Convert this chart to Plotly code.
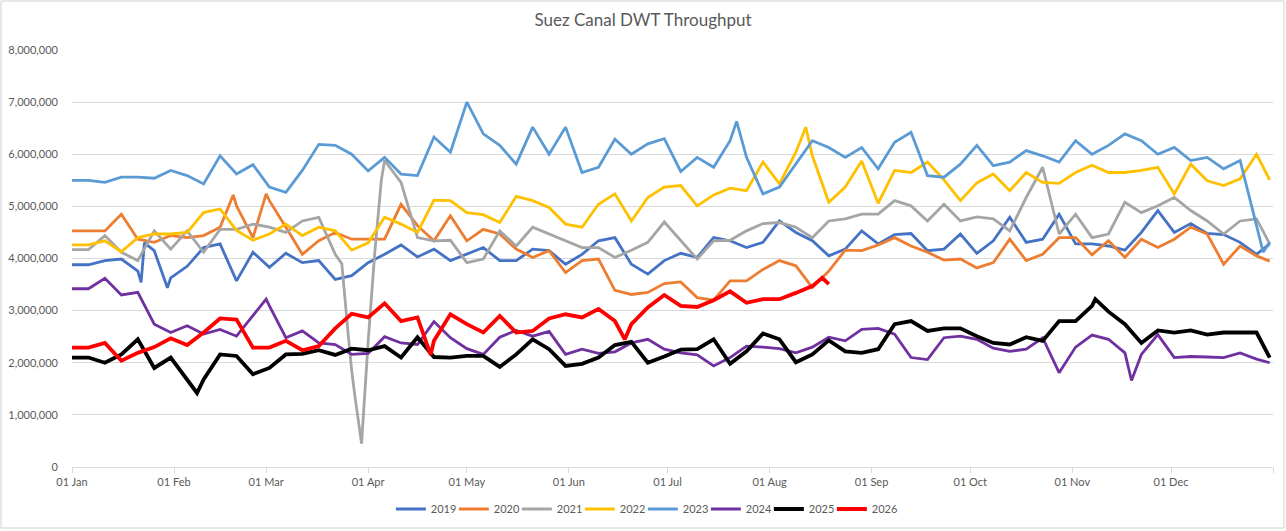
import pandas as pd
import plotly.graph_objects as go

# Day-of-year sample positions (shared grid) and base year for the date axis
DAYS = list(range(0, 361, 5)) + [364]
BASE = "2023-01-01"

YEARS = ["2019", "2020", "2021", "2022", "2023", "2024", "2025", "2026"]
COLORS = ["#4472C4", "#ED7D31", "#A5A5A5", "#FFC000", "#5B9BD5", "#7030A0", "#000000", "#FF0000"]

# Values in millions of DWT
V2019 = [3.88, 3.88, 3.96, 3.99, 3.76, 4.15, 3.63, 3.85, 4.21, 4.28,
         3.57, 4.12, 3.83, 4.10, 3.92, 3.96, 3.60, 3.67, 3.92, 4.08,
         4.26, 4.03, 4.18, 3.96, 4.08, 4.21, 3.96, 3.96, 4.18, 4.15,
         3.89, 4.08, 4.34, 4.40, 3.89, 3.70, 3.96, 4.10, 4.02, 4.40,
         4.34, 4.21, 4.31, 4.72, 4.50, 4.34, 4.05, 4.18, 4.53, 4.28,
         4.46, 4.48, 4.15, 4.18, 4.47, 4.10, 4.34, 4.79, 4.31, 4.37,
         4.85, 4.28, 4.28, 4.24, 4.16, 4.50, 4.92, 4.50, 4.67, 4.48,
         4.46, 4.31, 4.08, 4.28]
V2020 = [4.53, 4.53, 4.53, 4.85, 4.37, 4.31, 4.44, 4.40, 4.44, 4.60,
         5.01, 4.40, 5.11, 4.60, 4.08, 4.34, 4.50, 4.37, 4.37, 4.37,
         5.04, 4.63, 4.34, 4.82, 4.34, 4.56, 4.47, 4.18, 4.02, 4.15,
         3.73, 3.96, 3.99, 3.39, 3.31, 3.35, 3.52, 3.55, 3.25, 3.20,
         3.57, 3.57, 3.79, 3.96, 3.86, 3.44, 3.76, 4.16, 4.15, 4.26,
         4.40, 4.24, 4.12, 3.97, 3.99, 3.82, 3.92, 4.37, 3.96, 4.08,
         4.40, 4.40, 4.07, 4.34, 4.02, 4.37, 4.21, 4.37, 4.60, 4.47,
         3.89, 4.24, 4.05, 3.95]
V2021 = [4.17, 4.17, 4.44, 4.12, 3.96, 4.53, 4.18, 4.53, 4.12, 4.56,
         4.56, 4.66, 4.60, 4.50, 4.72, 4.79, 4.08, 1.85, 2.40, 5.88,
         5.46, 4.40, 4.34, 4.35, 3.92, 3.99, 4.53, 4.24, 4.60, 4.47,
         4.34, 4.21, 4.21, 4.02, 4.16, 4.31, 4.70, 4.34, 3.99, 4.34,
         4.35, 4.53, 4.67, 4.69, 4.60, 4.40, 4.72, 4.76, 4.85, 4.85,
         5.11, 5.01, 4.72, 5.04, 4.72, 4.80, 4.76, 4.53, 5.17, 5.75,
         4.47, 4.85, 4.40, 4.47, 5.08, 4.88, 5.01, 5.17, 4.92, 4.72,
         4.47, 4.72, 4.76, 4.28]
V2022 = [4.26, 4.26, 4.34, 4.13, 4.40, 4.47, 4.47, 4.50, 4.88, 4.95,
         4.54, 4.35, 4.47, 4.66, 4.44, 4.60, 4.53, 4.16, 4.30, 4.79,
         4.66, 4.50, 5.12, 5.11, 4.88, 4.84, 4.69, 5.19, 5.11, 4.98,
         4.66, 4.60, 5.04, 5.24, 4.72, 5.17, 5.37, 5.40, 5.01, 5.22,
         5.35, 5.30, 5.85, 5.43, 6.04, 5.97, 5.08, 5.37, 5.87, 5.06,
         5.69, 5.65, 5.85, 5.51, 5.11, 5.45, 5.62, 5.30, 5.65, 5.46,
         5.44, 5.65, 5.79, 5.65, 5.65, 5.69, 5.75, 5.24, 5.81, 5.49,
         5.40, 5.53, 6.00, 5.51]
V2023 = [5.50, 5.50, 5.46, 5.56, 5.56, 5.54, 5.69, 5.59, 5.43, 5.97,
         5.62, 5.80, 5.37, 5.27, 5.69, 6.19, 6.17, 6.00, 5.68, 5.94,
         5.62, 5.59, 6.33, 6.04, 7.00, 6.39, 6.17, 5.81, 6.52, 6.00,
         6.52, 5.65, 5.75, 6.29, 6.00, 6.20, 6.30, 5.67, 5.94, 5.75,
         6.26, 5.94, 5.24, 5.37, 5.81, 6.26, 6.13, 5.94, 6.13, 5.72,
         6.23, 6.42, 5.59, 5.56, 5.81, 6.17, 5.78, 5.85, 6.07, 5.97,
         5.85, 6.26, 6.00, 6.17, 6.39, 6.26, 6.00, 6.13, 5.88, 5.94,
         5.72, 5.88, 4.63, 4.31]
V2024 = [3.42, 3.42, 3.62, 3.30, 3.35, 2.74, 2.58, 2.71, 2.55, 2.64,
         2.51, 2.90, 3.09, 2.48, 2.61, 2.38, 2.35, 2.16, 2.18, 2.50,
         2.38, 2.35, 2.79, 2.48, 2.27, 2.16, 2.49, 2.62, 2.51, 2.60,
         2.16, 2.26, 2.18, 2.21, 2.38, 2.45, 2.26, 2.19, 2.15, 1.94,
         2.10, 2.32, 2.30, 2.27, 2.19, 2.30, 2.49, 2.42, 2.64, 2.66,
         2.55, 2.10, 2.06, 2.48, 2.51, 2.45, 2.28, 2.22, 2.26, 2.48,
         1.81, 2.30, 2.53, 2.45, 2.19, 2.16, 2.54, 2.10, 2.12, 2.11,
         2.10, 2.19, 2.07, 2.00]
V2025 = [2.10, 2.10, 2.00, 2.16, 2.45, 1.90, 2.10, 1.68, 1.68, 2.16,
         2.13, 1.78, 1.90, 2.16, 2.17, 2.24, 2.15, 2.27, 2.24, 2.32,
         2.10, 2.49, 2.11, 2.10, 2.13, 2.13, 1.92, 2.16, 2.45, 2.26,
         1.94, 1.98, 2.10, 2.34, 2.40, 2.00, 2.12, 2.25, 2.26, 2.45,
         1.98, 2.22, 2.56, 2.45, 2.01, 2.16, 2.43, 2.22, 2.19, 2.26,
         2.74, 2.80, 2.61, 2.66, 2.66, 2.51, 2.38, 2.35, 2.49, 2.42,
         2.80, 2.80, 3.09, 2.98, 2.74, 2.38, 2.62, 2.58, 2.62, 2.54,
         2.58, 2.58, 2.58, 2.10]
V2026 = [2.29, 2.29, 2.38, 2.04, 2.19, 2.30, 2.47, 2.34, 2.58, 2.85,
         2.83, 2.29, 2.29, 2.42, 2.24, 2.32, 2.66, 2.94, 2.87, 3.14,
         2.80, 2.87, 2.42, 2.93, 2.74, 2.58, 2.90, 2.58, 2.61, 2.85,
         2.93, 2.87, 3.03, 2.80, 2.74, 3.06, 3.30, 3.09, 3.07, 3.20,
         3.37, 3.15, 3.22, 3.22, 3.34, 3.47, 3.51]

# Extra (day, value) readings at sharp peaks/dips between grid days
X2019 = [(21, 3.54), (22, 4.30), (29, 3.44)]
X2020 = [(49, 5.22), (59, 5.24)]
X2021 = [(82, 3.90), (84, 2.50), (86, 1.35), (88, 0.45), (92, 4.10), (94, 5.50)]
X2022 = [(223, 6.52)]
X2023 = [(202, 6.63), (362, 4.12)]
X2024 = [(59, 3.22), (322, 1.66)]
X2025 = [(38, 1.42), (311, 3.22)]
X2026 = [(109, 2.15), (168, 2.45), (228, 3.63)]

VALUES = [V2019, V2020, V2021, V2022, V2023, V2024, V2025, V2026]
EXTRAS = [X2019, X2020, X2021, X2022, X2023, X2024, X2025, X2026]
WIDTHS = [2.8, 2.8, 2.8, 2.8, 2.8, 2.8, 3.8, 3.8]


def build(values, extra):
    pts = sorted(list(zip(DAYS[:len(values)], values)) + list(extra))
    x = pd.Timestamp(BASE) + pd.to_timedelta([p[0] for p in pts], unit="D")
    y = [p[1] * 1e6 for p in pts]
    return x, y


FONT = "Lato, Calibri, sans-serif"
GREY_TXT = "#595959"

fig = go.Figure()
n = len(YEARS)
for i, (name, vals, ext, col, w) in enumerate(zip(YEARS, VALUES, EXTRAS, COLORS, WIDTHS)):
    x, y = build(vals, ext)
    tr = go.Scatter(x=x, y=y, mode="lines", name=name,
                    line=dict(color=col, width=w))
    if i == n - 1:
        tr.legendwidth = 26  # keep the last label from being clipped
    fig.add_trace(tr)

W, H = 1286, 531
L, R, T, B = 72, 13, 50, 64
pw, ph = W - L - R, H - T - B

fig.update_layout(
    width=W, height=H,
    margin=dict(l=L, r=R, t=T, b=B),
    paper_bgcolor="white", plot_bgcolor="white",
    font=dict(family=FONT, size=11, color=GREY_TXT),
    title=dict(text="Suez Canal DWT Throughput", x=0.5, xref="container",
               y=1 - 20 / H, yref="container", yanchor="middle", xanchor="center",
               font=dict(family=FONT, size=17, color=GREY_TXT)),
    showlegend=True,
    legend=dict(orientation="h", xref="container", yref="container",
                x=0.503, xanchor="center", y=1 - 509 / H, yanchor="middle",
                font=dict(family=FONT, size=11, color=GREY_TXT),
                itemwidth=30, entrywidth=18, entrywidthmode="pixels",
                traceorder="normal"),
    xaxis=dict(type="date", range=[BASE, "2024-01-01"], automargin=False,
               tick0=BASE, dtick="M1", tickformat="%d %b",
               showgrid=False, zeroline=False,
               showline=True, linecolor="#D9D9D9", linewidth=1,
               ticks="outside", ticklen=5, tickcolor="#D9D9D9",
               ticklabelstandoff=0,
               tickfont=dict(family=FONT, size=11, color=GREY_TXT)),
    yaxis=dict(range=[0, 8e6], dtick=1e6, tickformat=",d", automargin=False,
               showgrid=True, gridcolor="#D9D9D9", gridwidth=1,
               zeroline=False, showline=False, ticks="",
               ticklabelstandoff=13,
               tickfont=dict(family=FONT, size=11, color=GREY_TXT)),
    shapes=[dict(type="rect", xref="paper", yref="paper",
                 x0=(1 - L) / pw, x1=(W - 2 - L) / pw,
                 y0=(H - B - (H - 3)) / ph, y1=(H - B - 1) / ph,
                 line=dict(color="#D0D0D0", width=1), fillcolor="rgba(0,0,0,0)",
                 layer="above")],
)

fig.write_html("out.html", config={"displayModeBar": False},
               post_script="document.body.style.margin='0';")
